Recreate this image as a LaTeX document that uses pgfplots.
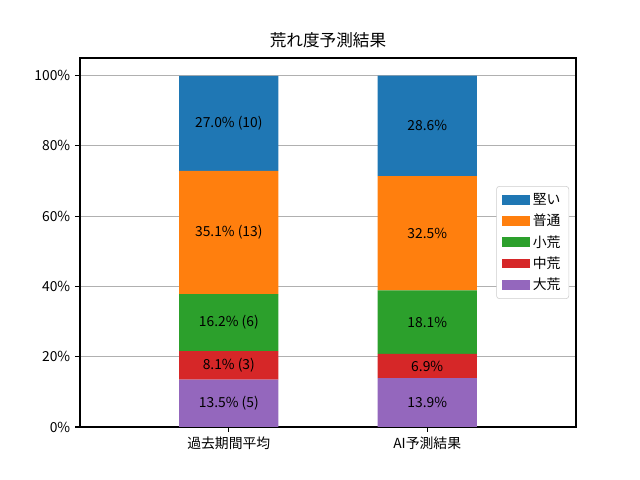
\documentclass[border=0pt]{standalone}
\usepackage{pgfplots}
\usepackage{pgfplotstable}
\pgfplotsset{compat=1.18}
\usepackage{fontspec}
\setmainfont{Noto Sans CJK JP}
\definecolor{tblue}{HTML}{1F77B4}
\definecolor{torange}{HTML}{FF7F0E}
\definecolor{tgreen}{HTML}{2CA02C}
\definecolor{tred}{HTML}{D62728}
\definecolor{tpurple}{HTML}{9467BD}
\pgfplotstableread{
x dai chu sho futsu katai
0 13.5 8.1 16.2 35.1 27.0
1 13.9 6.9 18.1 32.5 28.6
}\datatable
\pgfplotstableread{
x y label
0 6.75 {13.5\% (5)}
0 17.55 {8.1\% (3)}
0 29.7 {16.2\% (6)}
0 55.35 {35.1\% (13)}
0 86.5 {27.0\% (10)}
1 6.95 {13.9\%}
1 17.35 {6.9\%}
1 29.85 {18.1\%}
1 55.15 {32.5\%}
1 85.7 {28.6\%}
}\labeltable
\begin{document}
\begin{tikzpicture}
\path[use as bounding box] (0,0) rectangle (6.4in,4.8in);
\pgfplotsset{
  base/.style={
    at={(0.80in,0.53in)}, anchor=south west,
    scale only axis, width=4.96in, height=3.69in,
    xmin=-0.75, xmax=1.75, ymin=0, ymax=105,
  }
}
\begin{axis}[base,
  ybar stacked, bar width=0.5,
  xtick={0,1}, xticklabels={過去期間平均,AI予測結果},
  ytick={0,20,40,60,80,100},
  yticklabels={0\%,20\%,40\%,60\%,80\%,100\%},
  tick align=outside, major tick length=0.049in,
  tick style={black, line width=0.8pt},
  axis line style={line width=0.8pt},
  ymajorgrids, major grid style={color=black!31, line width=0.8pt},
  ticklabel style={font=\fontsize{10}{12}\selectfont},
  xtick pos=bottom, ytick pos=left,
  title={荒れ度予測結果}, title style={font=\fontsize{12}{14}\selectfont, yshift=-2pt},
  reverse legend,
  legend style={at={(0.986,0.5)}, anchor=east, font=\fontsize{10}{12}\selectfont,
    draw=black!20, rounded corners=2pt, inner xsep=4pt, inner ysep=3pt, row sep=1.5pt},
  legend cell align=left,
  legend image code/.code={\fill[#1, sharp corners] (-2pt,-3.5pt) rectangle (18.2pt,3.5pt);},
]
\addplot[fill=tpurple, draw=none] table[x=x,y=dai]{\datatable};
\addlegendentry{大荒}
\addplot[fill=tred, draw=none] table[x=x,y=chu]{\datatable};
\addlegendentry{中荒}
\addplot[fill=tgreen, draw=none] table[x=x,y=sho]{\datatable};
\addlegendentry{小荒}
\addplot[fill=torange, draw=none] table[x=x,y=futsu]{\datatable};
\addlegendentry{普通}
\addplot[fill=tblue, draw=none] table[x=x,y=katai]{\datatable};
\addlegendentry{堅い}
\end{axis}
\begin{axis}[base, hide axis]
\addplot[only marks, mark=none, nodes near coords, point meta=explicit symbolic,
  every node near coord/.style={anchor=center, font=\fontsize{10}{12}\selectfont, text=black}]
  table[x=x, y=y, meta=label]{\labeltable};
\end{axis}
\end{tikzpicture}
\end{document}
